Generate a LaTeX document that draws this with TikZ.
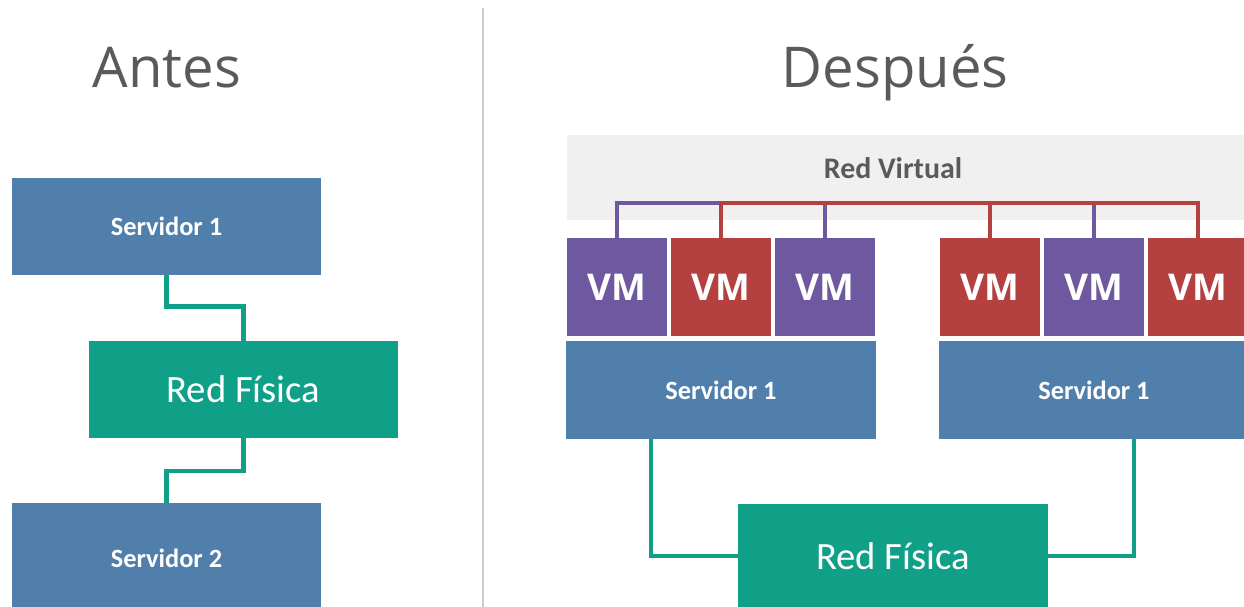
\documentclass[tikz,border=0pt]{standalone}
\usepackage{fontspec}
\setmainfont{Carlito}
\newfontfamily\titlefont{Open Sans}
\usepackage{xcolor}
\usepackage{tikz}
\usetikzlibrary{positioning}

\definecolor{srvblue}{RGB}{80,127,172}
\definecolor{netgreen}{RGB}{16,160,135}
\definecolor{vmpurple}{RGB}{110,88,160}
\definecolor{vmred}{RGB}{180,64,63}
\definecolor{bandgray}{RGB}{240,240,240}
\definecolor{divgray}{RGB}{204,204,204}
\definecolor{titlegray}{RGB}{90,90,90}

\begin{document}
\begin{tikzpicture}[x=0.02cm,y=-0.02cm]

% Stili per box e collegamenti
\tikzset{
  srvbox/.style={fill=srvblue, text=white, inner sep=0pt, outer sep=0pt,
    minimum width=6.2cm, minimum height=1.96cm, font=\bfseries\fontsize{15}{18}\selectfont},
  physbox/.style={fill=netgreen, text=white, inner sep=0pt, outer sep=0pt,
    minimum width=6.2cm, font=\fontsize{22}{26}\selectfont},
  vmbox/.style={text=white, inner sep=0pt, outer sep=0pt,
    minimum width=2cm, minimum height=1.96cm, font=\titlefont\bfseries\fontsize{21}{25}\selectfont},
  vmP/.style={vmbox, fill=vmpurple},
  vmR/.style={vmbox, fill=vmred},
  heading/.style={text=titlegray, anchor=base, font=\titlefont\fontsize{32}{38}\selectfont},
  netlink/.style={draw=netgreen, line width=2.8pt},
  vlink/.style={line width=2.8pt}
}

\useasboundingbox (0,0) rectangle (1244,607);

% --- Divisore ---
\draw[divgray, line width=1.7pt] (483,8) -- (483,620);

% --- Parte sinistra: Antes ---
\node[heading] (antes) at (167,88) {Antes};

\node[srvbox] (srvA) at (166.5,226.5) {Servidor 1};
\node[physbox, minimum height=1.94cm] (redA) at (243.5,389.5) {Red Física};
\node[srvbox, minimum height=2.2cm] (srvB) at (166.5,558) {Servidor 2};

\draw[netlink] (srvA.south) -- ++(0,31) -| (redA.north);
\draw[netlink] (redA.south) -- ++(0,33) -| (srvB.north);

% --- Parte destra: Después ---
\node[heading] (despues) at (895,88) {Después};

% Banda della rete virtuale
\fill[bandgray] (567,135) rectangle (1250,220);
\node[text=titlegray, font=\bfseries\fontsize{17}{20}\selectfont] (vnet) at (893,168) {Red Virtual};
\coordinate (bus) at (0,203);

% VM del primo server
\node[vmP] (vm1) at (617,287) {VM};
\node[vmR, right=0.08cm of vm1] (vm2) {VM};
\node[vmP, right=0.08cm of vm2] (vm3) {VM};
\node[srvbox, below=0.1cm of vm2] (srvL) {Servidor 1};

% VM del secondo server
\node[vmR] (vm4) at (990,287) {VM};
\node[vmP, right=0.08cm of vm4] (vm5) {VM};
\node[vmR, right=0.08cm of vm5] (vm6) {VM};
\node[srvbox, below=0.1cm of vm5] (srvR) {Servidor 1};

% Reti virtuali (viola sotto, rossa sopra)
\draw[vlink, vmpurple] (vm1.north) |- (bus -| vm5.north) -- (vm5.north);
\draw[vlink, vmpurple] (vm3.north) -- (bus -| vm3.north);
\draw[vlink, vmred] (vm2.north) |- (bus -| vm6.north) -- (vm6.north);
\draw[vlink, vmred] (vm4.north) -- (bus -| vm4.north);

% Rete fisica
\node[physbox, minimum height=2.1cm] (redR) at (893,556) {Red Física};
\coordinate[xshift=1.7cm] (linkL) at (srvL.south west);
\coordinate[xshift=3.9cm] (linkR) at (srvR.south west);
\draw[netlink] (linkL) |- (redR.west);
\draw[netlink] (redR.east) -| (linkR);

\end{tikzpicture}
\end{document}
